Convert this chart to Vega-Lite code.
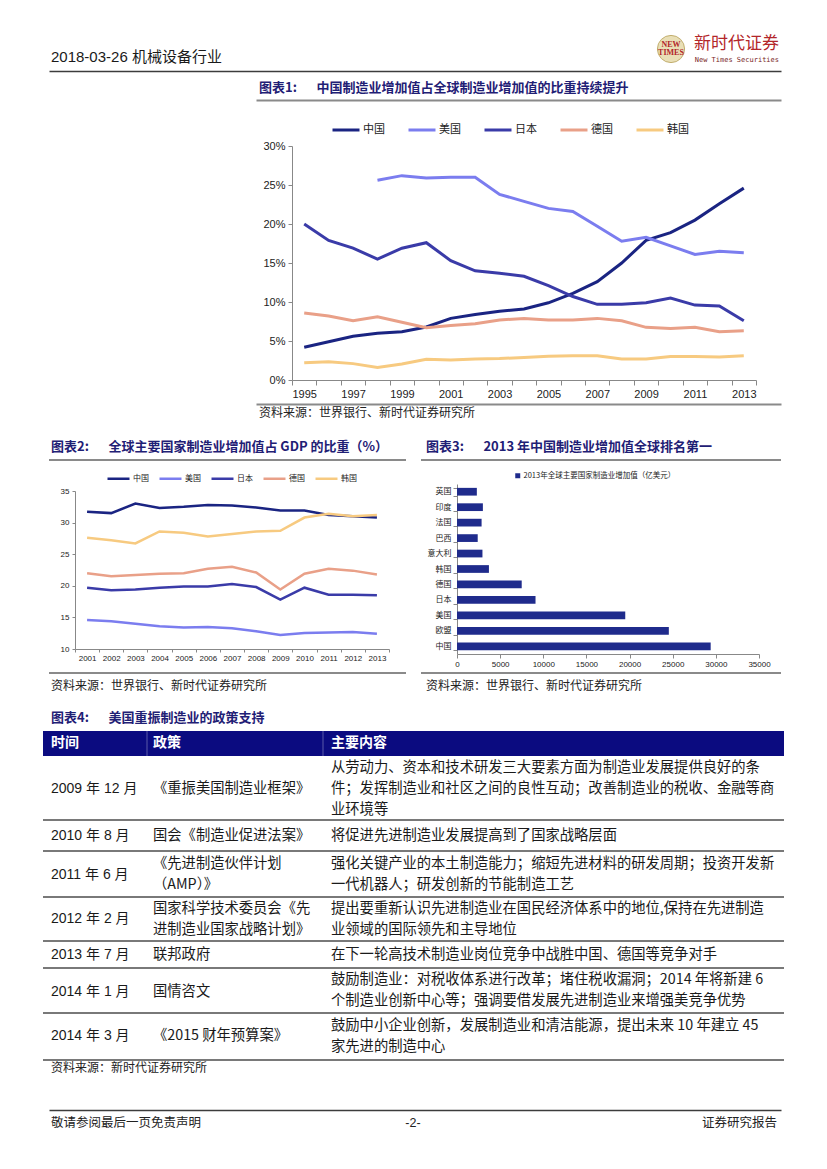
{
  "$schema": "https://vega.github.io/schema/vega-lite/v6.json",
  "background": "white",
  "padding": {"left": 42, "top": 33, "right": 10, "bottom": 10},
  "spacing": 0,
  "bounds": "flush",
  "config": {
    "view": {"stroke": null},
    "font": "Noto Sans CJK SC",
    "concat": {"spacing": 0},
    "axis": {"labelFont": "Liberation Sans, Noto Sans CJK SC", "labelColor": "#222222", "domainColor": "#888888", "tickColor": "#888888", "grid": false},
    "legend": {"labelFont": "Noto Sans CJK SC", "labelColor": "#222222"}
  },
  "vconcat": [
    {
      "width": 741, "height": 38,
      "encoding": {"x": {"field": "slot", "type": "nominal", "scale": {"type": "point", "domain": ["left", "right"], "range": [6, 738], "padding": 0}, "axis": {"orient": "bottom", "labels": false, "ticks": false, "title": null, "domainColor": "#3c3c3c", "domainWidth": 1.5}}},
      "layer": [
        {"data": {"values": [{"slot": "left", "text": "2018-03-26 机械设备行业"}]}, "mark": {"type": "text", "align": "left", "baseline": "middle", "font": "Liberation Sans, Noto Sans CJK SC", "fontSize": 15, "color": "#1a1a1a", "xOffset": 2, "yOffset": 5}, "encoding": {"text": {"field": "text"}}},
        {"data": {"values": [{"slot": "right", "text": "logo"}]}, "mark": {"type": "point", "shape": "circle", "filled": true, "size": 740, "fill": "#e9dfb6", "stroke": "#c2ae6e", "strokeWidth": 1, "opacity": 1, "xOffset": -110, "yOffset": -3}, "encoding": {}},
        {"data": {"values": [{"slot": "right", "text": "NEW"}]}, "mark": {"type": "text", "align": "center", "baseline": "middle", "font": "Liberation Serif", "fontWeight": "bold", "fontSize": 8, "color": "#b3262a", "xOffset": -110, "yOffset": -7}, "encoding": {"text": {"field": "text"}}},
        {"data": {"values": [{"slot": "right", "text": "TIMES"}]}, "mark": {"type": "text", "align": "center", "baseline": "middle", "font": "Liberation Serif", "fontWeight": "bold", "fontSize": 8, "color": "#b3262a", "xOffset": -110, "yOffset": 1}, "encoding": {"text": {"field": "text"}}},
        {"data": {"values": [{"slot": "right", "text": "新时代证券"}]}, "mark": {"type": "text", "align": "right", "baseline": "middle", "fontSize": 17, "color": "#b3262a", "xOffset": -2, "yOffset": -8}, "encoding": {"text": {"field": "text"}}},
        {"data": {"values": [{"slot": "right", "text": "New Times Securities"}]}, "mark": {"type": "text", "align": "right", "baseline": "middle", "font": "DejaVu Sans Mono", "fontSize": 7, "color": "#7a2626", "xOffset": -2, "yOffset": 8}, "encoding": {"text": {"field": "text"}}}
      ]
    },
    {
      "width": 741, "height": 29,
      "data": {"values": [{"slot": "left", "text": "图表1:\u3000\u2002中国制造业增加值占全球制造业增加值的比重持续提升"}]},
      "mark": {"type": "text", "align": "left", "baseline": "middle", "fontSize": 13, "fontWeight": "bold", "color": "#1f2075", "xOffset": 3, "yOffset": 2.5},
      "encoding": {
        "x": {"field": "slot", "type": "nominal", "scale": {"type": "point", "domain": ["left", "right"], "range": [213, 738], "padding": 0}, "axis": {"orient": "bottom", "labels": false, "ticks": false, "title": null, "domainColor": "#8a8a8a", "domainWidth": 2}},
        "text": {"field": "text"}
      }
    },
    {"width": 741, "height": 46, "data": {"values": []}, "mark": "point", "encoding": {}},
    {
      "width": 741, "height": 234,
      "data": {"values": [
        {"year": 1995, "country": "中国", "value": 4.2}, {"year": 1996, "country": "中国", "value": 4.9}, {"year": 1997, "country": "中国", "value": 5.6}, {"year": 1998, "country": "中国", "value": 6.0}, {"year": 1999, "country": "中国", "value": 6.2}, {"year": 2000, "country": "中国", "value": 6.8}, {"year": 2001, "country": "中国", "value": 7.9}, {"year": 2002, "country": "中国", "value": 8.4}, {"year": 2003, "country": "中国", "value": 8.8}, {"year": 2004, "country": "中国", "value": 9.1}, {"year": 2005, "country": "中国", "value": 9.9}, {"year": 2006, "country": "中国", "value": 11.1}, {"year": 2007, "country": "中国", "value": 12.6}, {"year": 2008, "country": "中国", "value": 15.0}, {"year": 2009, "country": "中国", "value": 17.9}, {"year": 2010, "country": "中国", "value": 18.9}, {"year": 2011, "country": "中国", "value": 20.5}, {"year": 2012, "country": "中国", "value": 22.6}, {"year": 2013, "country": "中国", "value": 24.6},
        {"year": 1998, "country": "美国", "value": 25.6}, {"year": 1999, "country": "美国", "value": 26.2}, {"year": 2000, "country": "美国", "value": 25.9}, {"year": 2001, "country": "美国", "value": 26.0}, {"year": 2002, "country": "美国", "value": 26.0}, {"year": 2003, "country": "美国", "value": 23.8}, {"year": 2004, "country": "美国", "value": 22.9}, {"year": 2005, "country": "美国", "value": 22.0}, {"year": 2006, "country": "美国", "value": 21.6}, {"year": 2007, "country": "美国", "value": 19.7}, {"year": 2008, "country": "美国", "value": 17.8}, {"year": 2009, "country": "美国", "value": 18.3}, {"year": 2010, "country": "美国", "value": 17.2}, {"year": 2011, "country": "美国", "value": 16.1}, {"year": 2012, "country": "美国", "value": 16.5}, {"year": 2013, "country": "美国", "value": 16.3},
        {"year": 1995, "country": "日本", "value": 20.0}, {"year": 1996, "country": "日本", "value": 17.9}, {"year": 1997, "country": "日本", "value": 16.9}, {"year": 1998, "country": "日本", "value": 15.5}, {"year": 1999, "country": "日本", "value": 16.9}, {"year": 2000, "country": "日本", "value": 17.6}, {"year": 2001, "country": "日本", "value": 15.3}, {"year": 2002, "country": "日本", "value": 14.0}, {"year": 2003, "country": "日本", "value": 13.7}, {"year": 2004, "country": "日本", "value": 13.3}, {"year": 2005, "country": "日本", "value": 12.1}, {"year": 2006, "country": "日本", "value": 10.7}, {"year": 2007, "country": "日本", "value": 9.7}, {"year": 2008, "country": "日本", "value": 9.7}, {"year": 2009, "country": "日本", "value": 9.9}, {"year": 2010, "country": "日本", "value": 10.5}, {"year": 2011, "country": "日本", "value": 9.6}, {"year": 2012, "country": "日本", "value": 9.5}, {"year": 2013, "country": "日本", "value": 7.6},
        {"year": 1995, "country": "德国", "value": 8.6}, {"year": 1996, "country": "德国", "value": 8.2}, {"year": 1997, "country": "德国", "value": 7.6}, {"year": 1998, "country": "德国", "value": 8.1}, {"year": 1999, "country": "德国", "value": 7.4}, {"year": 2000, "country": "德国", "value": 6.7}, {"year": 2001, "country": "德国", "value": 7.0}, {"year": 2002, "country": "德国", "value": 7.2}, {"year": 2003, "country": "德国", "value": 7.7}, {"year": 2004, "country": "德国", "value": 7.9}, {"year": 2005, "country": "德国", "value": 7.7}, {"year": 2006, "country": "德国", "value": 7.7}, {"year": 2007, "country": "德国", "value": 7.9}, {"year": 2008, "country": "德国", "value": 7.6}, {"year": 2009, "country": "德国", "value": 6.75}, {"year": 2010, "country": "德国", "value": 6.6}, {"year": 2011, "country": "德国", "value": 6.75}, {"year": 2012, "country": "德国", "value": 6.2}, {"year": 2013, "country": "德国", "value": 6.3},
        {"year": 1995, "country": "韩国", "value": 2.2}, {"year": 1996, "country": "韩国", "value": 2.35}, {"year": 1997, "country": "韩国", "value": 2.1}, {"year": 1998, "country": "韩国", "value": 1.6}, {"year": 1999, "country": "韩国", "value": 2.05}, {"year": 2000, "country": "韩国", "value": 2.65}, {"year": 2001, "country": "韩国", "value": 2.55}, {"year": 2002, "country": "韩国", "value": 2.7}, {"year": 2003, "country": "韩国", "value": 2.75}, {"year": 2004, "country": "韩国", "value": 2.9}, {"year": 2005, "country": "韩国", "value": 3.05}, {"year": 2006, "country": "韩国", "value": 3.1}, {"year": 2007, "country": "韩国", "value": 3.1}, {"year": 2008, "country": "韩国", "value": 2.7}, {"year": 2009, "country": "韩国", "value": 2.7}, {"year": 2010, "country": "韩国", "value": 3.0}, {"year": 2011, "country": "韩国", "value": 3.0}, {"year": 2012, "country": "韩国", "value": 2.95}, {"year": 2013, "country": "韩国", "value": 3.1}
      ]},
      "mark": {"type": "line", "strokeWidth": 3},
      "encoding": {
        "x": {"field": "year", "type": "ordinal", "scale": {"type": "band", "paddingInner": 0, "paddingOuter": 0, "range": [249, 713]}, "axis": {"title": null, "labelAngle": 0, "tickBand": "extent", "labelOverlap": false, "labelExpr": "datum.value % 2 == 1 ? datum.label : ''", "labelFontSize": 11, "tickSize": 5, "labelPadding": 3}},
        "y": {"field": "value", "type": "quantitative", "scale": {"domain": [0, 30], "nice": false}, "axis": {"title": null, "offset": -249, "values": [0, 5, 10, 15, 20, 25, 30], "labelExpr": "datum.value + '%'", "labelFontSize": 11, "tickSize": 4, "labelPadding": 3}},
        "color": {"field": "country", "type": "nominal", "scale": {"domain": ["中国", "美国", "日本", "德国", "韩国"], "range": ["#1a2482", "#7b7def", "#3a3ba8", "#e9a088", "#f7ca80"]}, "legend": {"orient": "none", "legendX": 288, "legendY": 82, "direction": "horizontal", "title": null, "symbolType": "stroke", "symbolStrokeWidth": 3, "symbolSize": 729, "labelFontSize": 11, "labelOffset": 2, "columnPadding": 17}}
      }
    },
    {"width": 741, "height": 24, "data": {"values": []}, "mark": "point", "encoding": {}},
    {
      "width": 741, "height": 26,
      "data": {"values": [{"slot": "left", "text": "资料来源：世界银行、新时代证券研究所"}]},
      "mark": {"type": "text", "align": "left", "baseline": "middle", "fontSize": 12, "color": "#222222", "xOffset": 3, "yOffset": -4},
      "encoding": {
        "x": {"field": "slot", "type": "nominal", "scale": {"type": "point", "domain": ["left", "right"], "range": [213, 738], "padding": 0}, "axis": {"orient": "top", "labels": false, "ticks": false, "title": null, "domainColor": "#8a8a8a", "domainWidth": 2}},
        "text": {"field": "text"}
      }
    },
    {
      "width": 741, "height": 30,
      "encoding": {"x": {"field": "slot", "type": "nominal", "scale": {"type": "point", "domain": ["left", "right"], "range": [0, 741], "padding": 0}, "axis": null}},
      "layer": [
        {"data": {"values": [{"slot": "left", "text": "图表2:\u3000\u2002全球主要国家制造业增加值占 GDP 的比重（%）"}]}, "mark": {"type": "text", "align": "left", "baseline": "middle", "fontSize": 13, "fontWeight": "bold", "color": "#1f2075", "xOffset": 8, "yOffset": 2}, "encoding": {"text": {"field": "text"}}},
        {"data": {"values": [{"slot": "left", "text": "图表3:\u3000\u20022013 年中国制造业增加值全球排名第一"}]}, "mark": {"type": "text", "align": "left", "baseline": "middle", "fontSize": 13, "fontWeight": "bold", "color": "#1f2075", "xOffset": 383, "yOffset": 2}, "encoding": {"text": {"field": "text"}}},
        {"data": {"values": [{"slot": "left", "slot2": "left", "edge": "bottom"}]}, "mark": {"type": "rule", "color": "#8a8a8a", "strokeWidth": 2, "xOffset": 6, "x2Offset": 363}, "encoding": {"x2": {"field": "slot2"}, "y": {"field": "edge", "type": "nominal", "scale": {"type": "point", "domain": ["top", "bottom"], "range": [0, 30], "padding": 0}, "axis": null}}},
        {"data": {"values": [{"slot": "left", "slot2": "right", "edge": "bottom"}]}, "mark": {"type": "rule", "color": "#8a8a8a", "strokeWidth": 2, "xOffset": 378, "x2Offset": -3}, "encoding": {"x2": {"field": "slot2"}, "y": {"field": "edge", "type": "nominal", "scale": {"type": "point", "domain": ["top", "bottom"], "range": [0, 30], "padding": 0}, "axis": null}}}
      ]
    },
    {"width": 741, "height": 24, "data": {"values": []}, "mark": "point", "encoding": {}},
    {
      "width": 741, "height": 170,
      "resolve": {"scale": {"x": "independent", "y": "independent"}, "axis": {"x": "independent", "y": "independent"}},
      "layer": [
        {
          "data": {"values": [
            {"year": 2001, "nation": "中国", "value": 31.7}, {"year": 2002, "nation": "中国", "value": 31.5}, {"year": 2003, "nation": "中国", "value": 33.0}, {"year": 2004, "nation": "中国", "value": 32.3}, {"year": 2005, "nation": "中国", "value": 32.5}, {"year": 2006, "nation": "中国", "value": 32.8}, {"year": 2007, "nation": "中国", "value": 32.7}, {"year": 2008, "nation": "中国", "value": 32.4}, {"year": 2009, "nation": "中国", "value": 31.9}, {"year": 2010, "nation": "中国", "value": 31.9}, {"year": 2011, "nation": "中国", "value": 31.2}, {"year": 2012, "nation": "中国", "value": 31.0}, {"year": 2013, "nation": "中国", "value": 30.8},
            {"year": 2001, "nation": "美国", "value": 14.6}, {"year": 2002, "nation": "美国", "value": 14.4}, {"year": 2003, "nation": "美国", "value": 14.0}, {"year": 2004, "nation": "美国", "value": 13.6}, {"year": 2005, "nation": "美国", "value": 13.4}, {"year": 2006, "nation": "美国", "value": 13.5}, {"year": 2007, "nation": "美国", "value": 13.3}, {"year": 2008, "nation": "美国", "value": 12.8}, {"year": 2009, "nation": "美国", "value": 12.2}, {"year": 2010, "nation": "美国", "value": 12.55}, {"year": 2011, "nation": "美国", "value": 12.6}, {"year": 2012, "nation": "美国", "value": 12.7}, {"year": 2013, "nation": "美国", "value": 12.4},
            {"year": 2001, "nation": "日本", "value": 19.7}, {"year": 2002, "nation": "日本", "value": 19.3}, {"year": 2003, "nation": "日本", "value": 19.4}, {"year": 2004, "nation": "日本", "value": 19.7}, {"year": 2005, "nation": "日本", "value": 19.9}, {"year": 2006, "nation": "日本", "value": 19.9}, {"year": 2007, "nation": "日本", "value": 20.3}, {"year": 2008, "nation": "日本", "value": 19.8}, {"year": 2009, "nation": "日本", "value": 17.8}, {"year": 2010, "nation": "日本", "value": 19.7}, {"year": 2011, "nation": "日本", "value": 18.6}, {"year": 2012, "nation": "日本", "value": 18.6}, {"year": 2013, "nation": "日本", "value": 18.5},
            {"year": 2001, "nation": "德国", "value": 22.0}, {"year": 2002, "nation": "德国", "value": 21.5}, {"year": 2003, "nation": "德国", "value": 21.7}, {"year": 2004, "nation": "德国", "value": 21.9}, {"year": 2005, "nation": "德国", "value": 22.0}, {"year": 2006, "nation": "德国", "value": 22.7}, {"year": 2007, "nation": "德国", "value": 23.0}, {"year": 2008, "nation": "德国", "value": 22.1}, {"year": 2009, "nation": "德国", "value": 19.4}, {"year": 2010, "nation": "德国", "value": 21.9}, {"year": 2011, "nation": "德国", "value": 22.7}, {"year": 2012, "nation": "德国", "value": 22.4}, {"year": 2013, "nation": "德国", "value": 21.8},
            {"year": 2001, "nation": "韩国", "value": 27.6}, {"year": 2002, "nation": "韩国", "value": 27.2}, {"year": 2003, "nation": "韩国", "value": 26.7}, {"year": 2004, "nation": "韩国", "value": 28.6}, {"year": 2005, "nation": "韩国", "value": 28.4}, {"year": 2006, "nation": "韩国", "value": 27.8}, {"year": 2007, "nation": "韩国", "value": 28.2}, {"year": 2008, "nation": "韩国", "value": 28.6}, {"year": 2009, "nation": "韩国", "value": 28.7}, {"year": 2010, "nation": "韩国", "value": 30.8}, {"year": 2011, "nation": "韩国", "value": 31.4}, {"year": 2012, "nation": "韩国", "value": 31.0}, {"year": 2013, "nation": "韩国", "value": 31.2}
          ]},
          "mark": {"type": "line", "strokeWidth": 2.5},
          "encoding": {
            "x": {"field": "year", "type": "ordinal", "scale": {"type": "band", "paddingInner": 0, "paddingOuter": 0, "range": [32, 346]}, "axis": {"orient": "bottom", "offset": -5, "title": null, "labelAngle": 0, "tickBand": "extent", "labelOverlap": false, "labelFontSize": 8, "tickSize": 3, "labelPadding": 2}},
            "y": {"field": "value", "type": "quantitative", "scale": {"domain": [10, 35], "nice": false, "zero": false, "range": [165, 7]}, "axis": {"orient": "left", "offset": -32, "title": null, "values": [10, 15, 20, 25, 30, 35], "labelFontSize": 8, "tickSize": 3, "labelPadding": 3}},
            "stroke": {"field": "nation", "type": "nominal", "sort": ["中国", "美国", "日本", "德国", "韩国"], "scale": {"range": ["#1a2482", "#7b7def", "#3a3ba8", "#e9a088", "#f7ca80"]}, "legend": {"orient": "none", "legendX": 63, "legendY": 433, "direction": "horizontal", "title": null, "symbolType": "stroke", "symbolStrokeWidth": 2.5, "symbolSize": 484, "labelFontSize": 8, "labelOffset": 2, "columnPadding": 5}}
          }
        },
        {
          "data": {"values": [
            {"country": "英国", "value": 2300, "series": "2013年全球主要国家制造业增加值（亿美元）"},
            {"country": "印度", "value": 3000, "series": "2013年全球主要国家制造业增加值（亿美元）"},
            {"country": "法国", "value": 2850, "series": "2013年全球主要国家制造业增加值（亿美元）"},
            {"country": "巴西", "value": 2400, "series": "2013年全球主要国家制造业增加值（亿美元）"},
            {"country": "意大利", "value": 2950, "series": "2013年全球主要国家制造业增加值（亿美元）"},
            {"country": "韩国", "value": 3700, "series": "2013年全球主要国家制造业增加值（亿美元）"},
            {"country": "德国", "value": 7500, "series": "2013年全球主要国家制造业增加值（亿美元）"},
            {"country": "日本", "value": 9100, "series": "2013年全球主要国家制造业增加值（亿美元）"},
            {"country": "美国", "value": 19500, "series": "2013年全球主要国家制造业增加值（亿美元）"},
            {"country": "欧盟", "value": 24550, "series": "2013年全球主要国家制造业增加值（亿美元）"},
            {"country": "中国", "value": 29400, "series": "2013年全球主要国家制造业增加值（亿美元）"}
          ]},
          "mark": {"type": "bar"},
          "encoding": {
            "y": {"field": "country", "type": "nominal", "sort": ["英国", "印度", "法国", "巴西", "意大利", "韩国", "德国", "日本", "美国", "欧盟", "中国"], "scale": {"type": "band", "paddingInner": 0.5, "paddingOuter": 0.25, "range": [0, 170]}, "axis": {"orient": "left", "offset": -414, "title": null, "tickBand": "extent", "labelFont": "Noto Sans CJK SC", "labelFontSize": 8, "tickSize": 4, "labelPadding": 2}},
            "x": {"field": "value", "type": "quantitative", "scale": {"domain": [0, 35000], "nice": false, "range": [414, 716]}, "axis": {"orient": "bottom", "title": null, "values": [0, 5000, 10000, 15000, 20000, 25000, 30000, 35000], "format": "d", "labelFlush": false, "labelFontSize": 8, "tickSize": 4, "labelPadding": 2}},
            "fill": {"field": "series", "type": "nominal", "scale": {"range": ["#1f2b8c"]}, "legend": {"orient": "none", "legendX": 471, "legendY": 439, "title": null, "symbolType": "square", "symbolSize": 25, "labelFontSize": 7.5, "labelOffset": 2}}
          }
        }
      ]
    },
    {"width": 741, "height": 19, "data": {"values": []}, "mark": "point", "encoding": {}},
    {
      "width": 741, "height": 27,
      "encoding": {"x": {"field": "slot", "type": "nominal", "scale": {"type": "point", "domain": ["left", "right"], "range": [0, 741], "padding": 0}, "axis": null}},
      "layer": [
        {"data": {"values": [{"slot": "left", "text": "资料来源：世界银行、新时代证券研究所"}]}, "mark": {"type": "text", "align": "left", "baseline": "middle", "fontSize": 12, "color": "#222222", "xOffset": 8, "yOffset": -0.5}, "encoding": {"text": {"field": "text"}}},
        {"data": {"values": [{"slot": "left", "text": "资料来源：世界银行、新时代证券研究所"}]}, "mark": {"type": "text", "align": "left", "baseline": "middle", "fontSize": 12, "color": "#222222", "xOffset": 383, "yOffset": -0.5}, "encoding": {"text": {"field": "text"}}},
        {"data": {"values": [{"slot": "left", "slot2": "left", "edge": "top"}]}, "mark": {"type": "rule", "color": "#8a8a8a", "strokeWidth": 2, "xOffset": 6, "x2Offset": 363}, "encoding": {"x2": {"field": "slot2"}, "y": {"field": "edge", "type": "nominal", "scale": {"type": "point", "domain": ["top", "bottom"], "range": [0, 27], "padding": 0}, "axis": null}}},
        {"data": {"values": [{"slot": "left", "slot2": "right", "edge": "top"}]}, "mark": {"type": "rule", "color": "#8a8a8a", "strokeWidth": 2, "xOffset": 378, "x2Offset": -3}, "encoding": {"x2": {"field": "slot2"}, "y": {"field": "edge", "type": "nominal", "scale": {"type": "point", "domain": ["top", "bottom"], "range": [0, 27], "padding": 0}, "axis": null}}}
      ]
    },
    {
      "width": 741, "height": 399,
      "encoding": {"x": {"field": "slot", "type": "nominal", "scale": {"type": "point", "domain": ["left", "right"], "range": [0, 741], "padding": 0}, "axis": null}},
      "layer": [
        {"data": {"values": [{"slot": "left", "slot2": "right", "top": 1.476, "bottom": 2.667}]}, "mark": {"type": "rect", "color": "#0b0b80"}, "encoding": {"x2": {"field": "slot2"}, "y": {"field": "top", "type": "quantitative", "scale": {"domain": [0, 19], "reverse": true, "nice": false, "zero": false}, "axis": null}, "y2": {"field": "bottom"}}},
        {"data": {"values": [{"slot": "left", "top": 1.476, "bottom": 2.667}]}, "mark": {"type": "rule", "color": "#5a5aa8", "strokeWidth": 1, "xOffset": 104}, "encoding": {"y": {"field": "top", "type": "quantitative"}, "y2": {"field": "bottom"}}},
        {"data": {"values": [{"slot": "left", "top": 1.476, "bottom": 2.667}]}, "mark": {"type": "rule", "color": "#5a5aa8", "strokeWidth": 1, "xOffset": 280}, "encoding": {"y": {"field": "top", "type": "quantitative"}, "y2": {"field": "bottom"}}},
        {"data": {"values": [{"slot": "left", "slot2": "right", "at": 5.71}, {"slot": "left", "slot2": "right", "at": 7.19}, {"slot": "left", "slot2": "right", "at": 9.38}, {"slot": "left", "slot2": "right", "at": 11.48}, {"slot": "left", "slot2": "right", "at": 12.76}, {"slot": "left", "slot2": "right", "at": 14.9}, {"slot": "left", "slot2": "right", "at": 17.14}]}, "mark": {"type": "rule", "color": "#4d4d4d", "strokeWidth": 1.5}, "encoding": {"x2": {"field": "slot2"}, "y": {"field": "at", "type": "quantitative"}}},
        {"data": {"values": [{"slot": "left", "line": 0.857, "text": "图表4:\u3000\u2002美国重振制造业的政策支持"}]}, "mark": {"type": "text", "align": "left", "baseline": "middle", "fontSize": 13, "fontWeight": "bold", "color": "#1f2075", "xOffset": 8}, "encoding": {"y": {"field": "line", "type": "quantitative"}, "text": {"field": "text"}}},
        {"data": {"values": [{"slot": "left", "line": 17.52, "text": "资料来源：新时代证券研究所"}]}, "mark": {"type": "text", "align": "left", "baseline": "middle", "fontSize": 12, "color": "#222222", "xOffset": 8}, "encoding": {"y": {"field": "line", "type": "quantitative"}, "text": {"field": "text"}}},
        {"data": {"values": [{"slot": "left", "line": 2.07, "text": "时间"}]}, "mark": {"type": "text", "align": "left", "baseline": "middle", "fontSize": 14, "fontWeight": "bold", "color": "white", "xOffset": 8}, "encoding": {"y": {"field": "line", "type": "quantitative"}, "text": {"field": "text"}}},
        {"data": {"values": [{"slot": "left", "line": 2.07, "text": "政策"}]}, "mark": {"type": "text", "align": "left", "baseline": "middle", "fontSize": 14, "fontWeight": "bold", "color": "white", "xOffset": 110}, "encoding": {"y": {"field": "line", "type": "quantitative"}, "text": {"field": "text"}}},
        {"data": {"values": [{"slot": "left", "line": 2.07, "text": "主要内容"}]}, "mark": {"type": "text", "align": "left", "baseline": "middle", "fontSize": 14, "fontWeight": "bold", "color": "white", "xOffset": 288}, "encoding": {"y": {"field": "line", "type": "quantitative"}, "text": {"field": "text"}}},
        {
          "data": {"values": [
            {"slot": "left", "line": 4.24, "text": "2009 年 12 月"},
            {"slot": "left", "line": 6.48, "text": "2010 年 8 月"},
            {"slot": "left", "line": 8.31, "text": "2011 年 6 月"},
            {"slot": "left", "line": 10.45, "text": "2012 年 2 月"},
            {"slot": "left", "line": 12.14, "text": "2013 年 7 月"},
            {"slot": "left", "line": 13.9, "text": "2014 年 1 月"},
            {"slot": "left", "line": 16.02, "text": "2014 年 3 月"}
          ]},
          "mark": {"type": "text", "align": "left", "baseline": "middle", "font": "Liberation Sans, Noto Sans CJK SC", "fontSize": 14, "color": "#1a1a1a", "xOffset": 8},
          "encoding": {"y": {"field": "line", "type": "quantitative"}, "text": {"field": "text"}}
        },
        {
          "data": {"values": [
            {"slot": "left", "line": 4.24, "text": "《重振美国制造业框架》"},
            {"slot": "left", "line": 6.48, "text": "国会《制造业促进法案》"},
            {"slot": "left", "line": 7.81, "text": "《先进制造伙伴计划"},
            {"slot": "left", "line": 8.81, "text": "（AMP）》"},
            {"slot": "left", "line": 9.95, "text": "国家科学技术委员会《先"},
            {"slot": "left", "line": 10.95, "text": "进制造业国家战略计划》"},
            {"slot": "left", "line": 12.14, "text": "联邦政府"},
            {"slot": "left", "line": 13.9, "text": "国情咨文"},
            {"slot": "left", "line": 16.02, "text": "《2015 财年预算案》"}
          ]},
          "mark": {"type": "text", "align": "left", "baseline": "middle", "fontSize": 14.3, "color": "#1a1a1a", "xOffset": 110},
          "encoding": {"y": {"field": "line", "type": "quantitative"}, "text": {"field": "text"}}
        },
        {
          "data": {"values": [
            {"slot": "left", "line": 3.24, "text": "从劳动力、资本和技术研发三大要素方面为制造业发展提供良好的条"},
            {"slot": "left", "line": 4.24, "text": "件；发挥制造业和社区之间的良性互动；改善制造业的税收、金融等商"},
            {"slot": "left", "line": 5.24, "text": "业环境等"},
            {"slot": "left", "line": 6.48, "text": "将促进先进制造业发展提高到了国家战略层面"},
            {"slot": "left", "line": 7.81, "text": "强化关键产业的本土制造能力；缩短先进材料的研发周期；投资开发新"},
            {"slot": "left", "line": 8.81, "text": "一代机器人；研发创新的节能制造工艺"},
            {"slot": "left", "line": 9.95, "text": "提出要重新认识先进制造业在国民经济体系中的地位,保持在先进制造"},
            {"slot": "left", "line": 10.95, "text": "业领域的国际领先和主导地位"},
            {"slot": "left", "line": 12.14, "text": "在下一轮高技术制造业岗位竞争中战胜中国、德国等竞争对手"},
            {"slot": "left", "line": 13.33, "text": "鼓励制造业：对税收体系进行改革；堵住税收漏洞；2014 年将新建 6"},
            {"slot": "left", "line": 14.33, "text": "个制造业创新中心等；强调要借发展先进制造业来增强美竞争优势"},
            {"slot": "left", "line": 15.52, "text": "鼓励中小企业创新，发展制造业和清洁能源，提出未来 10 年建立 45"},
            {"slot": "left", "line": 16.52, "text": "家先进的制造中心"}
          ]},
          "mark": {"type": "text", "align": "left", "baseline": "middle", "fontSize": 14.3, "color": "#1a1a1a", "xOffset": 288},
          "encoding": {"y": {"field": "line", "type": "quantitative"}, "text": {"field": "text"}}
        }
      ]
    },
    {"width": 741, "height": 11, "data": {"values": []}, "mark": "point", "encoding": {}},
    {
      "width": 741, "height": 25,
      "encoding": {"x": {"field": "slot", "type": "nominal", "scale": {"type": "point", "domain": ["left", "center", "right"], "range": [6, 738], "padding": 0}, "axis": {"orient": "top", "labels": false, "ticks": false, "title": null, "domainColor": "#3c3c3c", "domainWidth": 1.5}}},
      "layer": [
        {"data": {"values": [{"slot": "left", "text": "敬请参阅最后一页免责声明"}]}, "mark": {"type": "text", "align": "left", "baseline": "middle", "fontSize": 12.5, "color": "#222222", "xOffset": 2}, "encoding": {"text": {"field": "text"}}},
        {"data": {"values": [{"slot": "center", "text": "-2-"}]}, "mark": {"type": "text", "align": "center", "baseline": "middle", "font": "Liberation Sans", "fontSize": 12.5, "color": "#222222", "xOffset": -2}, "encoding": {"text": {"field": "text"}}},
        {"data": {"values": [{"slot": "right", "text": "证券研究报告"}]}, "mark": {"type": "text", "align": "right", "baseline": "middle", "fontSize": 12.5, "color": "#222222", "xOffset": -4}, "encoding": {"text": {"field": "text"}}}
      ]
    }
  ]
}
